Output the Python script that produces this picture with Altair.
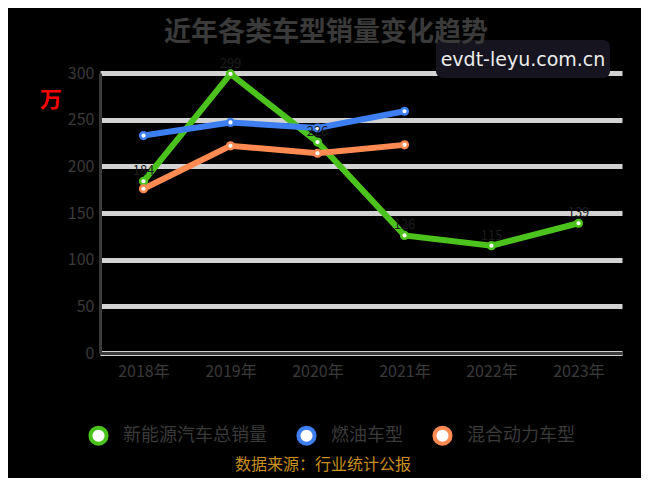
import altair as alt
import pandas as pd

years = ["2018年", "2019年", "2020年", "2021年", "2022年", "2023年"]
green_name = "新能源汽车总销量"
blue_name = "燃油车型"
orange_name = "混合动力车型"
green_vals = [184, 299, 226, 126, 115, 139]
blue_vals = [233, 247, 241, 259]
orange_vals = [176, 222, 214, 223]
series_names = [green_name, blue_name, orange_name]
series_colors = ["#4cc21c", "#3d7ff0", "#ff8a52"]
title_text = "近年各类车型销量变化趋势"
unit_text = "万"
source_text = "数据来源：行业统计公报"
watermark = "evdt-leyu.com.cn"

rows = []
for name, vals in zip(series_names, [green_vals, blue_vals, orange_vals]):
    for y, v in zip(years, vals):
        rows.append({"year": y, "series": name, "value": v})
df = pd.DataFrame(rows)
gdf = df[df.series == green_name]

FONT = "Noto Sans CJK SC"

x_enc = alt.X("year:N", sort=years,
              scale=alt.Scale(paddingInner=0, paddingOuter=0.5),
              axis=alt.Axis(title=None, labelFontSize=16, labelColor="#3a3a3a", labelFont=FONT,
                            labelPadding=10, ticks=False, domainColor="#3a3a3a", domainWidth=3,
                            labelAngle=0))
y_enc = alt.Y("value:Q", scale=alt.Scale(domain=[0, 300]),
              axis=alt.Axis(title=None, values=[0, 50, 100, 150, 200, 250, 300],
                            labelFontSize=16, labelColor="#3a3a3a", labelFont=FONT,
                            labelPadding=6, ticks=False, domainColor="#3a3a3a", domainWidth=3,
                            gridColor="#d2d2d2", gridWidth=5))
color_enc = alt.Color("series:N", sort=series_names,
                      scale=alt.Scale(domain=series_names, range=series_colors),
                      legend=alt.Legend(title=None, orient="none", direction="horizontal",
                                        legendX=-12, legendY=352, symbolType="circle",
                                        symbolFillColor="white", symbolStrokeWidth=4,
                                        symbolSize=260, labelFontSize=18, labelColor="#3a3a3a",
                                        labelFont=FONT, columnPadding=23, labelOffset=14))

base = alt.Chart(df)
lines = base.mark_line(strokeWidth=6).encode(
    x=x_enc, y=y_enc, color=color_enc,
    strokeWidth=alt.condition(alt.datum.series == green_name, alt.value(8), alt.value(6)))
points = base.mark_point(filled=True, fill="white", size=45, strokeWidth=2.5, opacity=1).encode(
    x=alt.X("year:N", sort=years), y="value:Q",
    stroke=alt.Stroke("series:N", scale=alt.Scale(domain=series_names, range=series_colors), legend=None))
labels = alt.Chart(gdf).mark_text(dy=-10, fontSize=13, color="#1c1c1c", font=FONT).encode(
    x=alt.X("year:N", sort=years), y="value:Q", text="value:Q")

wm_df = pd.DataFrame({"t": [watermark]})
wm_box = alt.Chart(wm_df).mark_rect(fill="#16151f", cornerRadius=7).encode(
    x=alt.value(336), x2=alt.value(510), y=alt.value(-33), y2=alt.value(5))
wm_text = alt.Chart(wm_df).mark_text(fontSize=19, color="#ececec", font="DejaVu Sans",
                                     align="center", baseline="middle").encode(
    x=alt.value(423), y=alt.value(-13), text="t:N")
unit = alt.Chart(pd.DataFrame({"t": [unit_text]})).mark_text(
    fontSize=22, color="#ff0000", font=FONT, fontWeight="bold", baseline="middle").encode(
    x=alt.value(-49), y=alt.value(27), text="t:N")
source = alt.Chart(pd.DataFrame({"t": [source_text]})).mark_text(
    fontSize=16, color="#c8901c", font=FONT, baseline="middle").encode(
    x=alt.value(223), y=alt.value(392), text="t:N")

chart = alt.layer(lines, points, labels, wm_box, wm_text, unit, source).properties(
    width=522, height=280,
    title=alt.TitleParams(title_text, fontSize=27, fontWeight="bold", color="#3a3a3a",
                          font=FONT, anchor="middle", dx=-35, offset=-7),
    padding={"left": 92, "top": 65, "right": 19, "bottom": 125},
    autosize=alt.AutoSizeParams(type="none"),
    background="black",
).configure_view(stroke=None).configure_axisX(grid=False)

chart.save("out.html", embed_options={"renderer": "svg", "actions": False})
